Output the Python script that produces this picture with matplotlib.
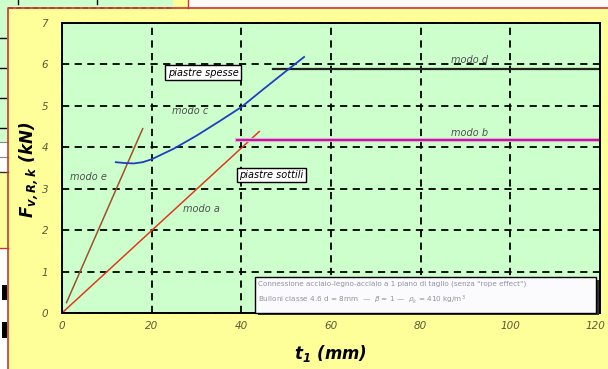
import matplotlib

matplotlib.use("Agg")
import matplotlib.pyplot as plt
from matplotlib.patches import Rectangle
from matplotlib.lines import Line2D
from matplotlib.transforms import ScaledTranslation

plt.rcParams["mathtext.fontset"] = "custom"
plt.rcParams["mathtext.bf"] = "DejaVu Sans:bold:italic"
plt.rcParams["mathtext.it"] = "DejaVu Sans:italic"
plt.rcParams["mathtext.rm"] = "DejaVu Sans"

# modo a / modo e: straight lines (thin plates)
t_a = [0, 44]
F_a = [0.0, 4.38]
t_e = [1, 18]
F_e = [0.25, 4.45]
# modo b / modo d: constant resistances
t_b = [39, 120]
F_b = [4.18, 4.18]
t_d = [47, 120]
F_d = [5.89, 5.89]
# modo c: curve (thick plates)
t_c = [12, 14, 16, 18, 20, 25, 30, 35, 40, 45, 50, 54]
F_c = [3.64, 3.62, 3.61, 3.64, 3.71, 3.97, 4.28, 4.62, 4.97, 5.41, 5.84, 6.18]

x_ticks = [0, 20, 40, 60, 80, 100, 120]
y_ticks = [0, 1, 2, 3, 4, 5, 6, 7]

note_lines = [
    'Connessione acciaio-legno-acciaio a 1 piano di taglio (senza "rope effect")',
    r"Bulloni classe 4.6 d = 8mm  —  $\beta$ = 1 —  $\rho_k$ = 410 kg/m$^3$",
]

W, H = 608, 369
fig = plt.figure(figsize=(W / 100, H / 100), dpi=100)
fig.patch.set_facecolor("#ffff99")


def fx(x):
    return x / W


def fy(y):
    return 1 - y / H


def rect(x0, y0, x1, y1, color, **kw):
    fig.add_artist(Rectangle((fx(x0), fy(y1)), fx(x1) - fx(x0), fy(y0) - fy(y1),
                             transform=fig.transFigure, facecolor=color,
                             edgecolor="none", **kw))


def line(xs, ys, **kw):
    fig.add_artist(Line2D([fx(v) for v in xs], [fy(v) for v in ys],
                          transform=fig.transFigure, **kw))


# bits of other windows around the chart (screenshot)
rect(0, 0, 173, 8, "#ccffcc")
rect(173, 0, 188, 8, "#ffff99")
rect(188, 0, W, 8, "#fffafa")
line([188, 188], [0, 8], color="#cc3333", lw=1)
line([18, 18], [0, 4], color="black", lw=1)
line([97, 97], [0, 4], color="black", lw=1)
line([8, 173], [8, 8], color="#993333", lw=1.2, ls=(0, (3, 2)))
rect(0, 8, 8, 142, "#ccffcc")
for yy in [38, 68, 98, 128]:
    line([0, 6], [yy, yy], color="black", lw=1)
rect(0, 142, 8, 172, "white")
line([0, 8], [142, 142], color="#888888", lw=0.8)
line([0, 8], [157, 157], color="#888888", lw=0.8)
line([0, 8], [172, 172], color="#333333", lw=1)
rect(0, 248, 8, H, "white")
line([0, 8], [248, 248], color="#cc3333", lw=1)
rect(2, 285, 7, 300, "black")
rect(2, 322, 7, 338, "black")
line([8, 8, W], [H, 8, 8], color="#cc3333", lw=1.2)

ax = fig.add_axes([fx(62), fy(313), fx(600) - fx(62), fy(23) - fy(313)])
ax.set_facecolor("#ccffcc")

ax.plot(t_a, F_a, color="#e03a1e", lw=1.1)
ax.plot(t_e, F_e, color="#a0502a", lw=1.1)
ax.plot(t_b, F_b, color="#f0a0e0", lw=3)
ax.plot(t_b, F_b, color="#b0208c", lw=1.4)
ax.plot(t_d, F_d, color="#222222", lw=1.6)
ax.plot(t_c, F_c, color="#1f3fc0", lw=1.3)

ax.set_xlim(0, 120)
ax.set_ylim(0, 7)
ax.set_xticks(x_ticks)
ax.set_yticks(y_ticks)
ax.grid(True, color="black", lw=1.3, ls=(0, (4, 3)))
ax.set_axisbelow(True)
for s in ax.spines.values():
    s.set_linewidth(1.4)
    s.set_color("black")
ax.tick_params(length=0, labelsize=7.5, labelcolor="#5a5a3a")
ax.tick_params(axis="y", pad=10)
ax.tick_params(axis="x", pad=6)
for lab in ax.get_xticklabels() + ax.get_yticklabels():
    lab.set_fontstyle("italic")
last = ax.get_xticklabels()[-1]
last.set_transform(last.get_transform() + ScaledTranslation(-5 / 100, 0, fig.dpi_scale_trans))

lab_kw = dict(fontsize=7, style="italic", color="#505050", ha="center", va="center")
ax.text(91, 6.1, "modo d", **lab_kw)
ax.text(91, 4.35, "modo b", **lab_kw)
ax.text(28.5, 4.87, "modo c", **lab_kw)
ax.text(5.9, 3.28, "modo e", **lab_kw)
ax.text(31, 2.5, "modo a", **lab_kw)

box_kw = dict(fontsize=7, style="italic", color="black", ha="center", va="center",
              bbox=dict(boxstyle="square,pad=0.25", facecolor="white",
                        edgecolor="black", lw=1))
ax.text(31.5, 5.8, "piastre spesse", **box_kw)
ax.text(46.7, 3.33, "piastre sottili", **box_kw)

# note box with shadow
ax.add_patch(Rectangle((43.8, -0.05), 76, 0.85, facecolor="#333333",
                       edgecolor="none", clip_on=False, zorder=4))
ax.add_patch(Rectangle((43, 0.0), 76, 0.87, facecolor="#fbfbfd",
                       edgecolor="black", lw=1, clip_on=False, zorder=5))
ax.text(43.8, 0.71, note_lines[0], fontsize=5.2, color="#9090a8", va="center",
        zorder=6)
ax.text(43.8, 0.33, note_lines[1], fontsize=5.2, color="#9090a8", va="center",
        zorder=6)

fig.text(fx(29), fy(170), r"$\mathbf{F}_{\mathbf{v,R,k}}$ (kN)", rotation=90,
         fontsize=12, weight="bold", style="italic", ha="center", va="center")
fig.text(fx(330), fy(354), r"$\mathbf{t}_{\mathbf{1}}$ (mm)", fontsize=12,
         weight="bold", style="italic", ha="center", va="center")

fig.savefig("out.png", dpi=100, facecolor=fig.get_facecolor())
